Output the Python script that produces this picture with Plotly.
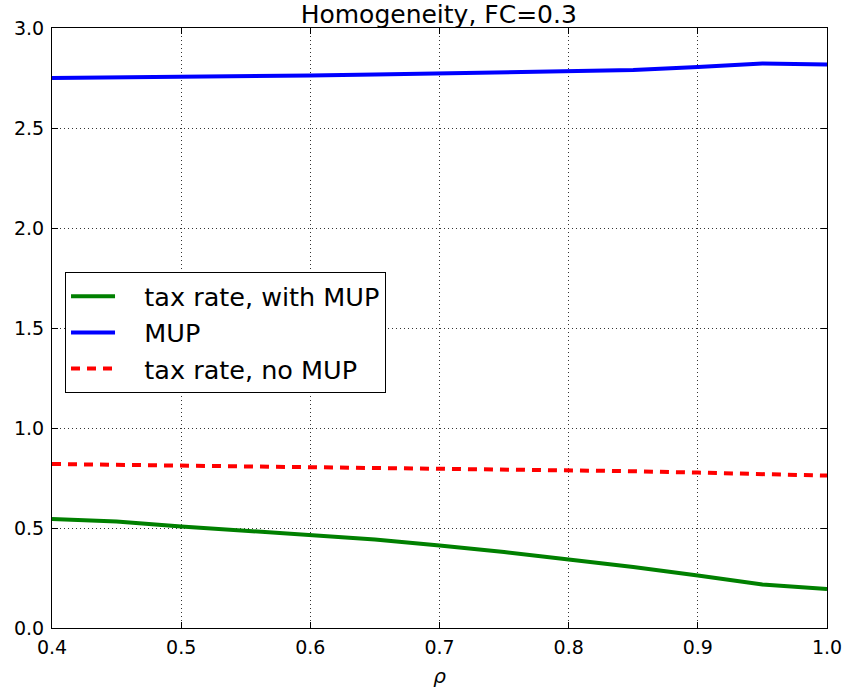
import plotly.graph_objects as go

rho = [0.4, 0.45, 0.5, 0.55, 0.6, 0.65, 0.7, 0.75, 0.8, 0.85, 0.9, 0.95, 1.0]
tax_with_mup = [0.545, 0.533, 0.508, 0.487, 0.463, 0.442, 0.412, 0.380, 0.342, 0.305, 0.262, 0.217, 0.195]
mup = [2.750, 2.752, 2.755, 2.759, 2.763, 2.767, 2.772, 2.777, 2.783, 2.790, 2.805, 2.822, 2.817]
tax_no_mup = [0.820, 0.816, 0.813, 0.810, 0.807, 0.803, 0.798, 0.794, 0.790, 0.784, 0.777, 0.770, 0.762]

x_ticks = [0.4, 0.5, 0.6, 0.7, 0.8, 0.9, 1.0]
y_ticks = [0.0, 0.5, 1.0, 1.5, 2.0, 2.5, 3.0]

font = "DejaVu Sans"
pad = "\u00a0\u00a0\u00a0"

fig = go.Figure()
fig.add_trace(go.Scatter(x=rho, y=tax_with_mup, mode="lines", name=pad + "tax rate, with MUP",
                         line=dict(color="#008000", width=4)))
fig.add_trace(go.Scatter(x=rho, y=mup, mode="lines", name=pad + "MUP",
                         line=dict(color="#0000ff", width=4)))
fig.add_trace(go.Scatter(x=rho, y=tax_no_mup, mode="lines", name=pad + "tax rate, no MUP",
                         line=dict(color="#ff0000", width=4, dash="9px,7px")))

axis_common = dict(showline=True, linecolor="black", linewidth=1, mirror="ticks",
                   ticks="inside", ticklen=6, tickcolor="black", automargin=False,
                   showgrid=True, gridcolor="#333333", griddash="1px,3px", gridwidth=1,
                   zeroline=False, tickfont=dict(family=font, size=19, color="black"))

fig.update_xaxes(range=[0.4, 1.0], tickvals=x_ticks, ticktext=[f"{v:.1f}" for v in x_ticks],
                 ticklabelstandoff=2,
                 title=dict(text="<i>ρ</i>", font=dict(family=font, size=20, color="black"), standoff=12),
                 **axis_common)
fig.update_yaxes(range=[0.0, 3.0], tickvals=y_ticks, ticktext=[f"{v:.1f}" for v in y_ticks],
                 ticklabelstandoff=3,
                 **axis_common)

fig.update_layout(
    width=847, height=691,
    margin=dict(l=52, r=20, t=28, b=63, autoexpand=False),
    paper_bgcolor="white", plot_bgcolor="white",
    title=dict(text="Homogeneity, FC=0.3", x=0.518, xanchor="center",
               yref="container", y=0.98, yanchor="middle",
               font=dict(family=font, size=25, color="black")),
    legend=dict(x=0.0168, y=0.593, xanchor="left", yanchor="top",
                bgcolor="white", bordercolor="black", borderwidth=1,
                font=dict(family=font, size=25.5, color="black"),
                itemwidth=44, tracegroupgap=0),
    showlegend=True,
)

fig.write_html("out.html", config={"displayModeBar": False},
               post_script="document.body.style.margin='0px';")
